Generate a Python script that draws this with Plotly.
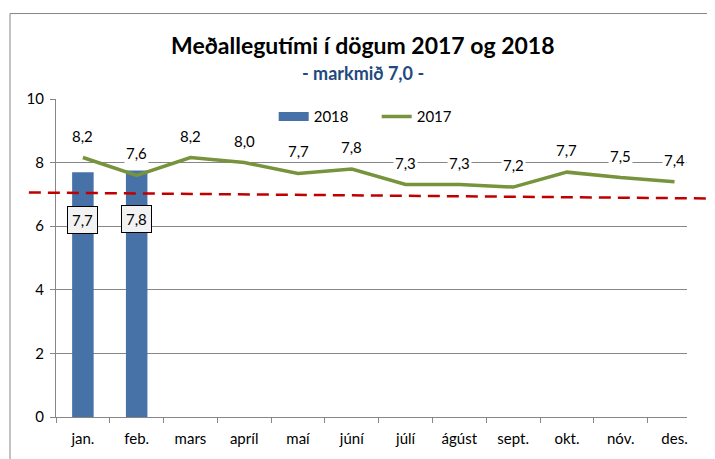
import plotly.graph_objects as go

months = ["jan.", "feb.", "mars", "apríl", "maí", "júní", "júlí", "ágúst", "sept.", "okt.", "nóv.", "des."]
v2018 = [7.7, 7.75]
v2017 = [8.16, 7.6, 8.16, 8.0, 7.66, 7.8, 7.31, 7.31, 7.23, 7.7, 7.53, 7.4]
target_line = [7.06, 6.87]  # dashed 'markmið' line, left and right ends
yticks = [0, 2, 4, 6, 8, 10]

BLUE = "#4672A8"
GREEN = "#77933C"

def fmt(v):
    return f"{v:.1f}".replace(".", ",")

fig = go.Figure()
fig.add_trace(go.Bar(x=months[:len(v2018)], y=v2018, name="2018", showlegend=False,
                     marker=dict(color=BLUE, line=dict(width=0)), width=0.4))
# legend entry for bars drawn as a wide rectangle
fig.add_trace(go.Scatter(x=[None], y=[None], name="2018", mode="lines",
                         line=dict(color=BLUE, width=9)))
fig.add_trace(go.Scatter(x=months, y=v2017, name="2017", mode="lines",
                         line=dict(color=GREEN, width=3.5)))

for m, v in zip(months, v2017):
    fig.add_annotation(x=m, y=v, text=fmt(v), showarrow=False, yanchor="bottom", yshift=11,
                       bgcolor="white", font=dict(size=15, color="black", family="Lato"),
                       borderpad=1)
for m, v in zip(months, v2018):
    fig.add_annotation(x=m, y=v, text=fmt(round(v + 0.001, 1)), showarrow=False, yanchor="top", yshift=-34,
                       bgcolor="#F2F2F2", bordercolor="black", borderwidth=1, borderpad=4,
                       font=dict(size=15, color="black", family="Lato"))

# outer frame
fig.add_shape(type="rect", xref="paper", yref="paper", x0=-0.0729, x1=1.2, y0=-0.3, y1=1.26875,
              line=dict(color="#868686", width=1), layer="below")
# target dashed line
fig.add_shape(type="line", xref="paper", yref="y", x0=-0.043, x1=1.05,
              y0=target_line[0], y1=target_line[1],
              line=dict(color="#C00000", width=2.5, dash="12px,7px"))

fig.add_annotation(xref="paper", yref="paper", x=0.486, y=1.17, text="<b>Meðallegutími í dögum 2017 og 2018</b>",
                   showarrow=False, font=dict(size=23, color="black", family="Lato"), yanchor="middle")
fig.add_annotation(xref="paper", yref="paper", x=0.486, y=1.081, text="<b>- markmið 7,0 -</b>",
                   showarrow=False, font=dict(size=18, color="#1F497D", family="Lato"), yanchor="middle")

fig.update_layout(
    width=707, height=451,
    margin=dict(l=48, r=28, t=91, b=40),
    plot_bgcolor="white", paper_bgcolor="white",
    font=dict(family="Lato", size=15, color="black"),
    showlegend=True,
    legend=dict(orientation="h", x=0.345, y=0.944, xanchor="left", yanchor="middle",
                bgcolor="rgba(0,0,0,0)", font=dict(size=15), traceorder="normal",
                tracegroupgap=0, entrywidth=58, entrywidthmode="pixels"),
)
fig.update_xaxes(showline=True, linecolor="#868686", linewidth=1, ticks="outside", tickson="boundaries",
                 ticklen=5, tickcolor="#868686", showgrid=False, tickfont=dict(size=15),
                 ticklabelstandoff=8,
                 categoryorder="array", categoryarray=months)
fig.update_yaxes(range=[0, 10], tickvals=yticks, showline=True, linecolor="#868686", linewidth=1,
                 ticks="outside", ticklen=5, tickcolor="#868686", showgrid=True, gridcolor="#868686",
                 gridwidth=1, zeroline=False, tickfont=dict(size=15), ticklabelstandoff=3)

fig.write_html("out.html")
